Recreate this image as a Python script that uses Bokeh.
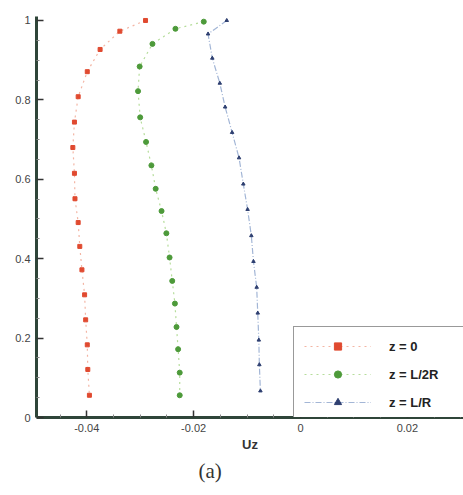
from bokeh.plotting import figure
from bokeh.models import FixedTicker, Legend, LegendItem, Range1d, Title
from bokeh.embed import file_html
from bokeh.resources import INLINE

# ---- data ----
series_names = ["z = 0", "z = L/2R", "z = L/R"]

uz_z0 = [-0.0290, -0.0338, -0.0375, -0.0399, -0.0416, -0.0423, -0.0426, -0.0423, -0.0422,
         -0.0416, -0.0413, -0.0409, -0.0404, -0.0402, -0.0399, -0.0398, -0.0395]
r_z0 = [1.000, 0.973, 0.927, 0.871, 0.808, 0.744, 0.680, 0.615, 0.551,
        0.491, 0.431, 0.372, 0.309, 0.246, 0.183, 0.121, 0.056]

uz_zhalf = [-0.0181, -0.0234, -0.0277, -0.0301, -0.0304, -0.0300, -0.0289, -0.0279, -0.0271,
            -0.0260, -0.0251, -0.0245, -0.0240, -0.0235, -0.0232, -0.0229, -0.0226, -0.0226]
r_zhalf = [0.997, 0.979, 0.941, 0.884, 0.822, 0.756, 0.694, 0.635, 0.576,
           0.520, 0.464, 0.403, 0.344, 0.287, 0.228, 0.172, 0.113, 0.056]

uz_zfull = [-0.0138, -0.0173, -0.0165, -0.0151, -0.0141, -0.0128, -0.0115, -0.0107,
            -0.0099, -0.0092, -0.0088, -0.0082, -0.0080, -0.0078, -0.0077, -0.0075]
r_zfull = [1.000, 0.966, 0.905, 0.842, 0.782, 0.718, 0.654, 0.588,
           0.524, 0.458, 0.393, 0.328, 0.263, 0.195, 0.133, 0.067]

x_ticks = [-0.04, -0.02, 0.0, 0.02]
x_tick_labels = ["-0.04", "-0.02", "0", "0.02"]
x_minor = [-0.045, -0.035, -0.03, -0.025, -0.015, -0.01, -0.005, 0.005, 0.01, 0.015, 0.025, 0.03]
y_ticks = [0.0, 0.2, 0.4, 0.6, 0.8, 1.0]
y_tick_labels = ["0", "0.2", "0.4", "0.6", "0.8", "1"]
y_minor = [0.05, 0.1, 0.15, 0.25, 0.3, 0.35, 0.45, 0.5, 0.55, 0.65, 0.7, 0.75, 0.85, 0.9, 0.95]

x_label = "Uz"
caption = "(a)"

# ---- figure ----
p = figure(frame_width=427, frame_height=401, output_backend="svg", toolbar_location=None,
           x_range=Range1d(-0.0494, 0.0305), y_range=Range1d(0.0, 1.01),
           min_border_left=36, min_border_right=0, min_border_top=16, min_border_bottom=78)
p.outline_line_color = None
p.xgrid.visible = False
p.ygrid.visible = False
p.background_fill_color = "white"
p.border_fill_color = "white"

axis_col = "#2f4539"
for ax in (p.xaxis[0], p.yaxis[0]):
    ax.axis_line_color = axis_col
    ax.axis_line_width = 3
    ax.major_tick_in = 7
    ax.major_tick_out = 0
    ax.minor_tick_in = 3
    ax.minor_tick_out = 0
    ax.major_tick_line_color = "#333333"
    ax.major_tick_line_width = 1.5
    ax.minor_tick_line_color = "#888888"
    ax.major_label_text_font = "Liberation Sans"
    ax.major_label_text_font_size = "11px"
    ax.major_label_text_color = "#444444"

p.xaxis[0].ticker = FixedTicker(ticks=x_ticks, minor_ticks=x_minor)
p.xaxis[0].major_label_overrides = {t: l for t, l in zip(x_ticks, x_tick_labels)}
p.xaxis[0].major_label_standoff = 6
p.xaxis[0].axis_label = x_label
p.xaxis[0].axis_label_text_font = "Liberation Sans"
p.xaxis[0].axis_label_text_font_style = "bold"
p.xaxis[0].axis_label_text_font_size = "13px"
p.xaxis[0].axis_label_text_color = "#333333"
p.xaxis[0].axis_label_standoff = 2

p.yaxis[0].ticker = FixedTicker(ticks=y_ticks, minor_ticks=y_minor)
p.yaxis[0].major_label_overrides = {t: l for t, l in zip(y_ticks, y_tick_labels)}
p.yaxis[0].major_label_standoff = 6

styles = [
    (uz_z0, r_z0, "#f3b5a4", "dotted", "#e04a30", "square", 4),
    (uz_zhalf, r_zhalf, "#b6dd9b", "dotted", "#4d9a3a", "circle", 5),
    (uz_zfull, r_zfull, "#a3b6d6", "6 2 1 2", "#2e3f70", "triangle", 3.5),
]
items = []
for (xs, ys, lc, dash, mc, mk, ms), name in zip(styles, series_names):
    lr = p.line(xs, ys, line_color=lc, line_width=1.2, line_dash=dash)
    sr = p.scatter(xs, ys, marker=mk, size=ms, fill_color=mc, line_color=mc)
    items.append(LegendItem(label=name, renderers=[lr, sr]))

legend = Legend(items=items, location=(257, -5), padding=10, margin=0, spacing=10,
                glyph_width=67, glyph_height=18, label_standoff=18, label_width=65,
                label_text_font="Liberation Sans", label_text_font_style="bold",
                label_text_font_size="13px", label_text_color="#222222",
                border_line_color="#333333", border_line_width=1.5,
                background_fill_color="white", background_fill_alpha=1.0)
p.add_layout(legend)

p.add_layout(Title(text=caption, align="left", offset=162, standoff=4,
                   text_font="Liberation Serif", text_font_size="21px",
                   text_font_style="normal", text_color="#333333"), "below")

open("out.html", "w").write(file_html(p, INLINE))
